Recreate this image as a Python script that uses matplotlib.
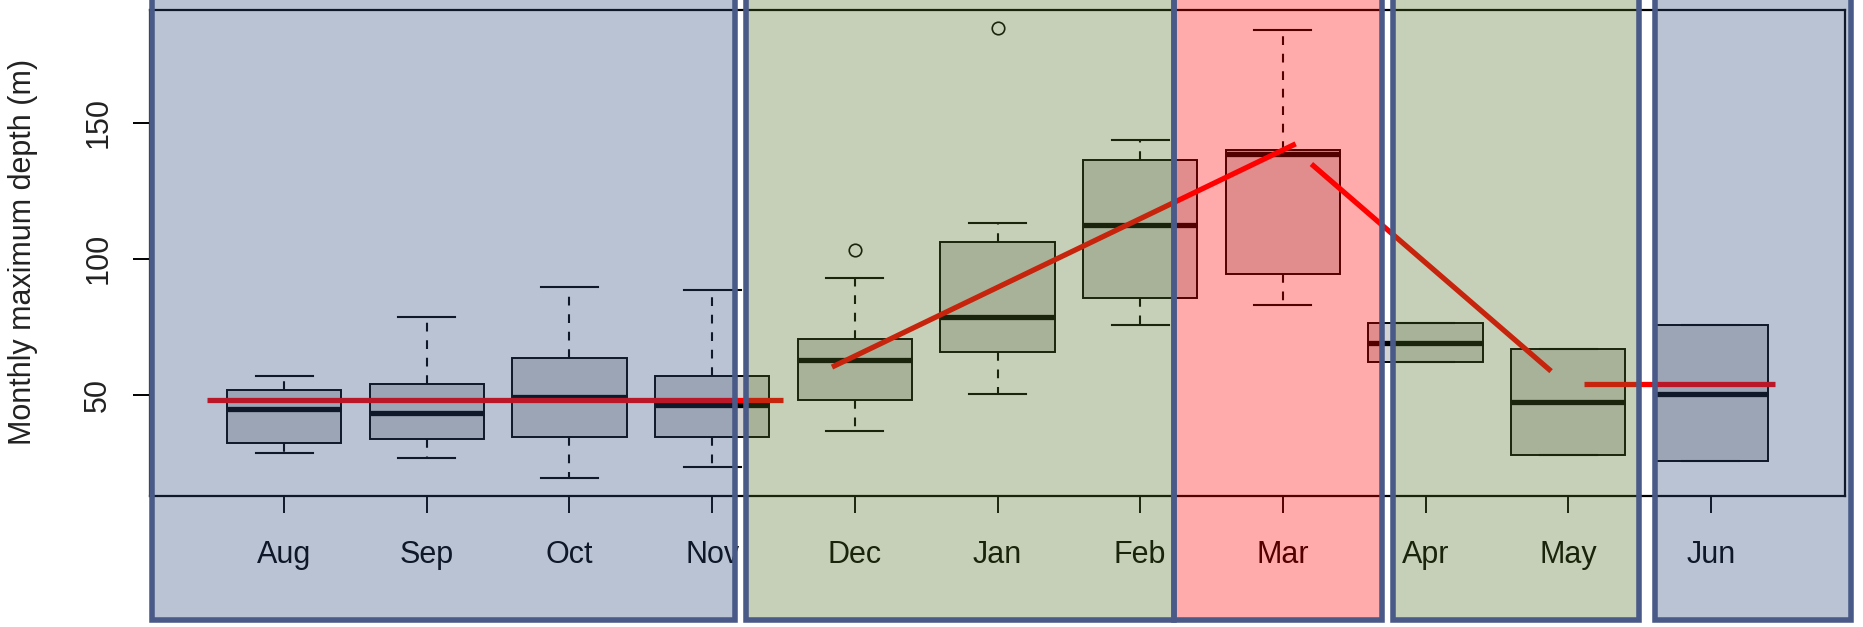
import matplotlib
matplotlib.use("Agg")
import matplotlib.pyplot as plt
from matplotlib.patches import Rectangle

plt.rcParams['font.family'] = ['Liberation Sans', 'DejaVu Sans']

# monthly maximum depth (m), box statistics
months = ['Aug', 'Sep', 'Oct', 'Nov', 'Dec', 'Jan', 'Feb', 'Mar', 'Apr', 'May', 'Jun']
whislo = [28.8, 26.8, 19.6, 23.8, 36.8, 50.4, 75.7, 83.1, 62.1, 28.2, 26.0]
q1 = [32.5, 33.8, 34.7, 34.7, 48.4, 65.7, 85.7, 94.6, 62.1, 28.2, 26.0]
med = [44.9, 43.4, 49.4, 46.3, 62.8, 78.7, 112.5, 138.6, 69.3, 47.6, 50.6]
q3 = [51.9, 54.0, 63.5, 56.9, 70.7, 106.2, 136.3, 140.0, 76.5, 67.1, 75.7]
whishi = [56.9, 78.7, 89.6, 88.7, 93.1, 113.2, 143.5, 184.0, 76.5, 67.1, 75.7]
fliers = [[], [], [], [], [103.1], [184.7], [], [], [], [], []]

# red trend segments (x in box positions, y in m)
trend_x = [[0.46, 4.50], [4.84, 8.09], [8.20, 9.88], [10.11, 11.45]]
trend_y = [[48.4, 48.4], [60.3, 142.2], [134.8, 58.8], [54.1, 54.1]]

# season shading (figure pixels, left/right) and colours
W, H = 1863, 627
bands = [
    (151.5, 735.5, (46/255, 73/255, 122/255)),
    (1174, 1382, (1.0, 0.0, 0.0)),
    (746, 1174, (82/255, 112/255, 37/255)),
    (1392.5, 1638.5, (82/255, 112/255, 37/255)),
    (1654.5, 1850.5, (46/255, 73/255, 122/255)),
]
edge = '#4a5a88'

fig = plt.figure(figsize=(W / 100, H / 100), dpi=100)
fig.patch.set_facecolor('white')
ax = fig.add_axes([150 / W, 1 - 496 / H, (1845 - 150) / W, (496 - 10) / H])

stats = []
for i in range(len(months)):
    stats.append(dict(label=months[i], whislo=whislo[i], q1=q1[i], med=med[i],
                      q3=q3[i], whishi=whishi[i], fliers=fliers[i]))
pos = list(range(1, len(months) + 1))

ax.bxp(stats, positions=pos, widths=0.8, patch_artist=True,
       boxprops=dict(facecolor='#d3d3d3', edgecolor='black', linewidth=1.4),
       medianprops=dict(color='black', linewidth=3.8),
       whiskerprops=dict(color='black', linestyle=(0, (4.2, 4.2)), linewidth=1.5),
       capprops=dict(color='black', linewidth=1.5),
       flierprops=dict(marker='o', markerfacecolor='none', markeredgecolor='black',
                       markersize=9, markeredgewidth=1.2))

for xs, ys in zip(trend_x, trend_y):
    ax.plot(xs, ys, color='#ff0000', linewidth=3.8, solid_capstyle='butt', zorder=5)

# R style default limits (4% padding)
lo = min(whislo + [v for f in fliers for v in f])
hi = max(whishi + [v for f in fliers for v in f])
pad = 0.04 * (hi - lo)
ax.set_ylim(lo - pad, hi + pad)
n = len(months)
ax.set_xlim(0.5 - 0.04 * n, n + 0.5 + 0.04 * n)

ax.set_yticks([50, 100, 150])
ax.set_yticklabels(['50', '100', '150'], rotation=90, va='center')
ax.set_xticks(pos)
ax.set_xticklabels(months)
ax.tick_params(axis='both', labelsize=22, length=12.5, width=1.4, color='black')
ax.tick_params(axis='x', pad=19)
ax.tick_params(axis='y', pad=14, labelcolor='#222222')
for s in ax.spines.values():
    s.set_linewidth(1.6)
ax.set_facecolor('white')

fig.text(23 / W, 1 - 251.5 / H, 'Monthly maximum depth (m)', rotation=90,
         ha='center', va='center', fontsize=22, color='#222222')

for left, right, col in bands:
    r = Rectangle((left / W, 7 / H), (right - left) / W, 1.1,
                  transform=fig.transFigure, facecolor=col + (0.33,),
                  edgecolor=edge, linewidth=4, zorder=10)
    fig.add_artist(r)

fig.savefig('out.png', dpi=100)
